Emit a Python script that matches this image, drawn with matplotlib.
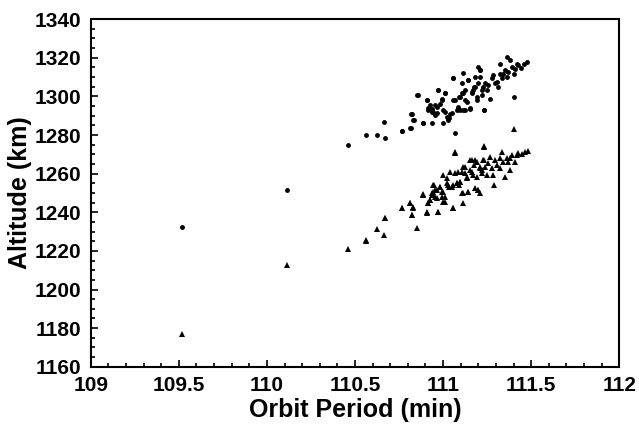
import matplotlib
matplotlib.use("Agg")
import matplotlib.pyplot as plt
from matplotlib.ticker import MultipleLocator

# upper branch (circles): orbit period (min), altitude (km)
circ_period = [
    109.518, 110.116, 110.459, 110.561, 110.626, 110.671, 110.662, 110.766, 110.813,
    110.819, 110.832, 110.857, 110.889, 110.940, 110.997, 111.069,
    110.765, 110.817, 110.822, 110.835, 110.854, 110.885, 110.907, 110.917, 110.926,
    110.936, 110.945, 110.955, 110.964, 110.974, 110.983, 110.993, 111.002, 111.012,
    111.021, 111.030, 111.040, 111.059, 111.059, 111.078, 111.087, 111.097, 111.106,
    111.116, 111.125, 111.116, 111.135, 111.144, 111.153, 111.163, 111.172, 111.182,
    111.191, 111.201, 111.210, 111.210, 111.220, 111.229, 111.233, 111.239, 111.248,
    111.258, 111.267, 111.277, 111.286, 111.295, 111.305, 111.314, 111.324, 111.324,
    111.333, 111.343, 111.352, 111.362, 111.362, 111.371, 111.381, 111.390, 111.400,
    111.409, 111.418, 111.428, 111.404,
    110.908, 110.917, 110.936, 110.955, 110.974, 110.993, 111.012, 110.965, 111.012,
    111.031, 111.050, 111.059, 111.116, 111.097, 111.122, 111.069, 111.088, 111.106,
    111.125, 111.144, 111.154, 111.163, 111.182, 111.173, 111.192, 111.211, 111.201,
    111.220, 111.230, 111.445, 111.462, 111.478,
]
circ_alt = [
    1232.2, 1251.6, 1274.9, 1279.8, 1280.1, 1278.2, 1286.5, 1282.2, 1283.7,
    1290.7, 1287.7, 1300.7, 1286.3, 1286.0, 1286.0, 1280.8,
    1282.2, 1283.7, 1290.8, 1287.7, 1300.6, 1286.3, 1298.0, 1292.9, 1295.5,
    1293.7, 1292.0, 1290.3, 1294.6, 1303.2, 1296.3, 1298.9, 1292.9, 1301.8,
    1289.4, 1288.0, 1291.1, 1309.3, 1298.0, 1292.9, 1294.6, 1299.8, 1306.7,
    1301.5, 1303.2, 1292.9, 1297.2, 1308.4, 1293.7, 1301.5, 1303.2, 1305.0,
    1298.0, 1315.3, 1310.1, 1313.6, 1300.6, 1305.0, 1292.9, 1306.7, 1303.2,
    1305.8, 1298.9, 1309.3, 1311.0, 1306.7, 1307.5, 1305.0, 1311.8, 1317.0,
    1309.3, 1311.8, 1313.6, 1320.5, 1310.1, 1312.7, 1318.8, 1315.3, 1311.8,
    1314.4, 1317.0, 1316.2, 1299.8,
    1298.1, 1293.8, 1292.0, 1295.5, 1303.2, 1298.1, 1301.5, 1291.2, 1292.0,
    1288.6, 1291.2, 1309.3, 1311.9, 1292.9, 1292.9, 1298.1, 1299.8, 1301.5,
    1298.1, 1308.4, 1293.8, 1302.4, 1310.2, 1305.0, 1299.8, 1313.6, 1306.7,
    1303.2, 1292.9, 1314.5, 1316.8, 1317.9,
]

# lower branch (triangles)
tri_period = [
    109.518, 110.116, 110.459, 110.563, 110.626, 110.662, 110.673,
    110.561, 110.671, 110.766, 110.813, 110.823, 110.832, 110.851, 110.889, 110.908,
    110.913, 110.927, 110.936, 110.946, 110.955, 110.965, 110.974, 110.983, 110.993,
    111.002, 111.012, 111.021, 111.031, 111.050, 111.059, 111.069, 111.069, 111.078,
    111.088, 111.097, 111.106, 111.116, 111.125, 111.135, 111.144, 111.154, 111.163,
    111.173, 111.182, 111.192, 111.201, 111.211, 111.220, 111.230, 111.230,
    110.765, 110.813, 110.832, 110.822, 110.889, 110.907, 110.917, 110.926, 110.936,
    110.945, 110.945, 110.955, 110.964, 110.974, 110.983, 110.993, 111.002, 111.002,
    111.012, 111.021, 111.030, 111.040, 111.059, 111.059, 111.068, 111.078, 111.087,
    111.097, 111.106, 111.116, 111.116, 111.125, 111.135, 111.144, 111.153, 111.163,
    111.172, 111.182, 111.191, 111.201, 111.210, 111.210, 111.220, 111.229, 111.235,
    111.239, 111.248, 111.258, 111.267, 111.277, 111.286, 111.290, 111.295, 111.305,
    111.324, 111.324, 111.333, 111.343, 111.352, 111.362, 111.371, 111.381, 111.381,
    111.390, 111.409, 111.418, 111.428, 111.404, 111.448, 111.465, 111.482,
]
tri_alt = [
    1177.0, 1212.7, 1220.8, 1225.5, 1231.1, 1228.0, 1237.2,
    1225.3, 1237.2, 1242.0, 1244.6, 1238.6, 1242.9, 1231.7, 1249.3, 1239.8,
    1244.6, 1246.4, 1249.8, 1254.1, 1248.1, 1251.5, 1240.3, 1253.3, 1250.7,
    1245.5, 1248.1, 1255.0, 1253.3, 1253.3, 1242.0, 1271.0, 1260.2, 1255.0,
    1254.1, 1255.8, 1261.0, 1249.8, 1263.6, 1258.4, 1250.7, 1267.1, 1261.0,
    1264.5, 1267.1, 1258.4, 1251.5, 1263.6, 1261.9, 1274.0, 1267.1,
    1242.0, 1244.6, 1242.0, 1238.6, 1248.9, 1240.3, 1244.6, 1246.3, 1248.9,
    1250.7, 1254.1, 1251.5, 1247.2, 1240.3, 1253.2, 1248.1, 1250.7, 1259.3,
    1245.5, 1257.6, 1254.1, 1261.0, 1254.1, 1242.0, 1270.8, 1255.0, 1261.0,
    1255.8, 1249.8, 1263.6, 1244.6, 1260.1, 1257.6, 1250.7, 1261.9, 1267.0,
    1259.3, 1252.4, 1266.2, 1251.5, 1249.8, 1262.7, 1260.1, 1267.0, 1274.5,
    1263.6, 1259.3, 1265.3, 1268.8, 1262.7, 1259.3, 1254.1, 1267.0, 1264.5,
    1267.9, 1262.7, 1271.4, 1266.2, 1258.4, 1267.9, 1266.2, 1267.9, 1261.9,
    1269.6, 1266.2, 1269.6, 1270.5, 1283.1, 1270.0, 1271.2, 1271.8,
]

plt.rcParams["font.family"] = ["Liberation Sans", "DejaVu Sans"]

fig = plt.figure(figsize=(6.39, 4.25), dpi=100)
ax = fig.add_axes([0.142, 0.137, 0.827, 0.818])

ax.plot(circ_period, circ_alt, "o", color="black", markersize=3.5, markeredgewidth=0)
ax.plot(tri_period, tri_alt, "^", color="black", markersize=3.8, markeredgewidth=0)

ax.set_xlim(109, 112)
ax.set_ylim(1160, 1340)
ax.xaxis.set_major_locator(MultipleLocator(0.5))
ax.xaxis.set_minor_locator(MultipleLocator(0.1))
ax.yaxis.set_major_locator(MultipleLocator(20))
ax.yaxis.set_minor_locator(MultipleLocator(5))
ax.set_xticklabels([f"{v:g}" for v in ax.get_xticks()])

ax.tick_params(which="both", direction="in", top=False, right=False, width=1.2)
ax.tick_params(which="major", length=5, labelsize=15, pad=7)
ax.tick_params(which="minor", length=3)
for lab in ax.get_xticklabels() + ax.get_yticklabels():
    lab.set_fontweight("bold")
for sp in ax.spines.values():
    sp.set_linewidth(1.5)

ax.set_xlabel("Orbit Period (min)", fontsize=18, fontweight="bold", labelpad=2)
ax.set_ylabel("Altitude (km)", fontsize=18, fontweight="bold", labelpad=2)

fig.savefig("out.png", dpi=100)
